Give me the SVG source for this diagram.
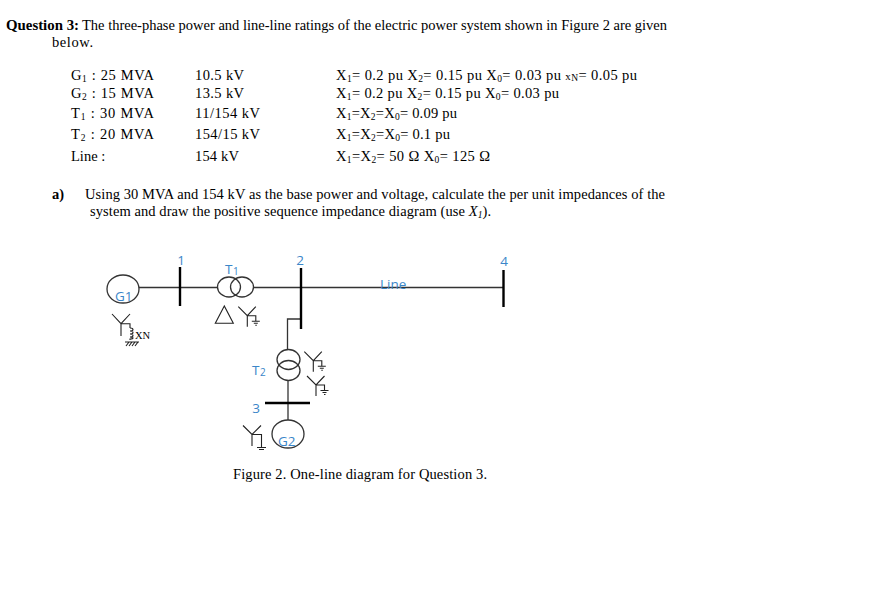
<svg xmlns="http://www.w3.org/2000/svg" xmlns:xlink="http://www.w3.org/1999/xlink" width="880" height="598" viewBox="0 0 880 598">
<style>
text{font-family:"Liberation Serif","Times New Roman",serif;font-size:14.5px;fill:#000}
.b{font-weight:bold}
.i{font-style:italic}
.s{font-size:9.5px}
.l{font-family:"Open Sans","Noto Sans",sans-serif;font-size:13.5px;fill:#3b86c9}
.ls{font-family:"Open Sans","Noto Sans",sans-serif;font-size:10px;fill:#3b86c9}
.w{fill:none;stroke:#222;stroke-width:1.1}
.c{fill:none;stroke:#333;stroke-width:1.3}
.ln{fill:none;stroke:#333;stroke-width:1.3}
.bus{fill:none;stroke:#000;stroke-width:2.4}
</style>
<defs>
<g id="wye" class="w"><path d="M-9,-9L0,0L8.500,-9M0,0V11M0,0H8.500V5.500M4.500,5.500H12.500M6.500,7.500H10.500M8,9.500H9.500"/></g>
</defs>
<rect width="880" height="598" fill="#fff"/>
<g id="question">
<text x="6" y="30" class="b" textLength="73" lengthAdjust="spacingAndGlyphs">Question 3:</text>
<text x="82" y="30" textLength="585" lengthAdjust="spacing">The three-phase power and line-line ratings of the electric power system shown in Figure 2 are given</text>
<text x="52" y="47" textLength="41" lengthAdjust="spacing">below.</text>
</g>
<g id="ratings">
<text x="71" y="80" textLength="83" lengthAdjust="spacing">G<tspan class="s" dy="2">1</tspan><tspan dy="-2"> : 25 MVA</tspan></text>
<text x="71" y="98" textLength="83" lengthAdjust="spacing">G<tspan class="s" dy="2">2</tspan><tspan dy="-2"> : 15 MVA</tspan></text>
<text x="71" y="118" textLength="83" lengthAdjust="spacing">T<tspan class="s" dy="2">1</tspan><tspan dy="-2"> : 30 MVA</tspan></text>
<text x="71" y="139" textLength="83" lengthAdjust="spacing">T<tspan class="s" dy="2">2</tspan><tspan dy="-2"> : 20 MVA</tspan></text>
<text x="71" y="161">Line :</text>
<text x="195" y="80" textLength="49" lengthAdjust="spacing">10.5 kV</text>
<text x="195" y="98" textLength="49" lengthAdjust="spacing">13.5 kV</text>
<text x="195" y="118" textLength="65" lengthAdjust="spacing">11/154 kV</text>
<text x="195" y="139" textLength="65" lengthAdjust="spacing">154/15 kV</text>
<text x="195" y="161" textLength="44" lengthAdjust="spacing">154 kV</text>
<text x="336" y="80" textLength="301" lengthAdjust="spacing">X<tspan class="s" dy="2">1</tspan><tspan dy="-2">= 0.2 pu </tspan>X<tspan class="s" dy="2">2</tspan><tspan dy="-2">= 0.15 pu </tspan>X<tspan class="s" dy="2">0</tspan><tspan dy="-2">= 0.03 pu </tspan><tspan style="font-size:11px">x</tspan><tspan class="s" dy="1">N</tspan><tspan dy="-1">= 0.05 pu</tspan></text>
<text x="336" y="98" textLength="223" lengthAdjust="spacing">X<tspan class="s" dy="2">1</tspan><tspan dy="-2">= 0.2 pu </tspan>X<tspan class="s" dy="2">2</tspan><tspan dy="-2">= 0.15 pu </tspan>X<tspan class="s" dy="2">0</tspan><tspan dy="-2">= 0.03 pu</tspan></text>
<text x="336" y="118" textLength="121" lengthAdjust="spacing">X<tspan class="s" dy="2">1</tspan><tspan dy="-2">=X</tspan><tspan class="s" dy="2">2</tspan><tspan dy="-2">=X</tspan><tspan class="s" dy="2">0</tspan><tspan dy="-2">= 0.09 pu</tspan></text>
<text x="336" y="139" textLength="114" lengthAdjust="spacing">X<tspan class="s" dy="2">1</tspan><tspan dy="-2">=X</tspan><tspan class="s" dy="2">2</tspan><tspan dy="-2">=X</tspan><tspan class="s" dy="2">0</tspan><tspan dy="-2">= 0.1 pu</tspan></text>
<text x="336" y="161" textLength="154" lengthAdjust="spacing">X<tspan class="s" dy="2">1</tspan><tspan dy="-2">=X</tspan><tspan class="s" dy="2">2</tspan><tspan dy="-2">= 50 Ω  </tspan>X<tspan class="s" dy="2">0</tspan><tspan dy="-2">= 125 Ω</tspan></text>
</g>
<g id="part-a">
<text x="52" y="199" class="b">a)</text>
<text x="85" y="199" textLength="580" lengthAdjust="spacing">Using 30 MVA and 154 kV as the base power and voltage, calculate the per unit impedances of the</text>
<text x="90" y="216" textLength="401" lengthAdjust="spacing">system and draw the positive sequence impedance diagram (use <tspan class="i">X</tspan><tspan class="i s" dy="2">1</tspan><tspan dy="-2">).</tspan></text>
</g>
<g id="connectors">
<path class="ln" d="M139,287.500H218M254,287.500H503"/>
<path class="ln" d="M301,319H287.500V349"/>
<path class="ln" d="M288,381V420"/>
</g>
<g id="bus-1"><path class="bus" d="M180,267V306"/><text class="l" x="181" y="265" text-anchor="middle">1</text></g>
<g id="bus-2"><path class="bus" d="M301,268V329"/><text class="l" x="300" y="265" text-anchor="middle">2</text></g>
<g id="bus-3"><path class="bus" d="M265,403H310"/><text class="l" x="256" y="413" text-anchor="middle">3</text></g>
<g id="bus-4"><path class="bus" d="M503.500,270V307"/><text class="l" x="504" y="266" text-anchor="middle">4</text></g>
<g id="line-label"><text class="l" x="380" y="288.500">Line</text></g>
<g id="G1">
<ellipse class="c" cx="123" cy="289" rx="16" ry="14"/>
<text class="l" x="115" y="300.500">G1</text>
<path class="w" d="M112,314L121,323.700L130,314M121,323.700V336M121,323.700H130V328"/>
<path class="w" d="M130,328c4,0 4,3 0,3c4,0 4,3 0,3c4,0 4,3 0,3c4,0 4,2 0,2V340"/>
<path class="w" d="M125,342H139M126,346L129,342M129,346L132,342M132,346L135,342M135,346L138,342"/>
<text x="135" y="339" style="font-size:10.500px">XN</text>
</g>
<g id="T1">
<ellipse class="c" cx="229" cy="287" rx="11.500" ry="10"/>
<ellipse class="c" cx="242" cy="287" rx="11.500" ry="10"/>
<text class="l" x="225" y="274">T</text><text class="ls" x="233" y="275">1</text>
<path class="w" d="M224.300,306L215.300,323.300H233.300Z"/>
<use xlink:href="#wye" href="#wye" x="247.300" y="315.700"/>
</g>
<g id="T2">
<ellipse class="c" cx="288.500" cy="359.500" rx="11.500" ry="10"/>
<ellipse class="c" cx="288.500" cy="370.500" rx="11.500" ry="10"/>
<text class="l" x="252" y="375">T</text><text class="ls" x="260" y="376">2</text>
<use xlink:href="#wye" href="#wye" x="313.300" y="360.700"/>
<use xlink:href="#wye" href="#wye" x="316" y="385"/>
</g>
<g id="G2">
<ellipse class="c" cx="288" cy="434" rx="16" ry="14"/>
<text class="l" x="278" y="445.500">G2</text>
<path class="w" d="M243,425.500L252,434.500L261,425.500M252,434.500V446M252,434.500H261.500V447M257,447.500H266M259,449.500H264"/>
</g>
<g id="caption">
<text x="233" y="479" textLength="254" lengthAdjust="spacing">Figure 2. One-line diagram for Question 3.</text>
</g>
</svg>
